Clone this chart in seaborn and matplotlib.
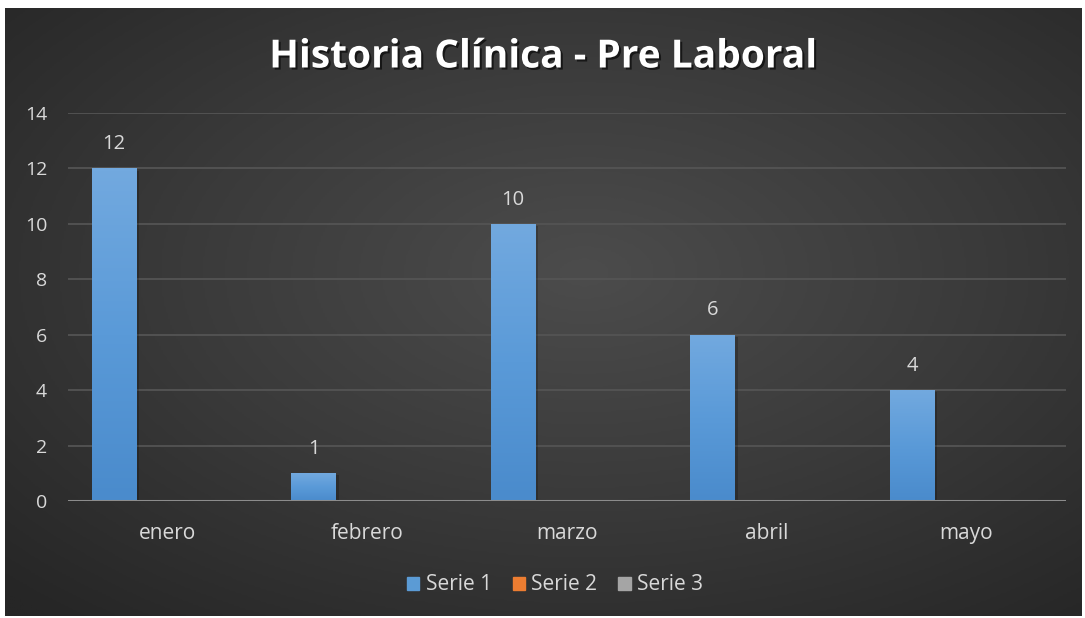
import numpy as np
import pandas as pd
import matplotlib
matplotlib.use('Agg')
import matplotlib.pyplot as plt
import matplotlib.patheffects as pe
from matplotlib.colors import LinearSegmentedColormap
import seaborn as sns

meses = ['enero', 'febrero', 'marzo', 'abril', 'mayo']
serie1 = [12, 1, 10, 6, 4]
serie2 = [0, 0, 0, 0, 0]
serie3 = [0, 0, 0, 0, 0]
series = ['Serie 1', 'Serie 2', 'Serie 3']
colores = ['#5b9bd5', '#ed7d31', '#a5a5a5']

df = pd.DataFrame({
    'mes': meses * 3,
    'serie': [s for s in series for _ in meses],
    'valor': serie1 + serie2 + serie3,
})

sns.set_style('dark')
plt.rcParams['font.family'] = ['Open Sans', 'DejaVu Sans']
txt = '#d9d9d9'

fig = plt.figure(figsize=(10.85, 6.18), dpi=100, facecolor='white')

# radial background like the Excel chart style
bg = fig.add_axes([5 / 1085, 2 / 618, 1077 / 1085, 608 / 618], zorder=-10)
yy, xx = np.mgrid[0:300, 0:540]
d = np.sqrt(((xx - 290) / 540) ** 2 + ((yy - 130) / 300) ** 2)
d = np.clip(d / 0.75, 0, 1)
bg_cmap = LinearSegmentedColormap.from_list('bg', ['#4c4c4c', '#3a3a3a', '#262626'])
bg.imshow(d, cmap=bg_cmap, aspect='auto', interpolation='bilinear')
bg.axis('off')

ax = fig.add_axes([68 / 1085, 1 - 501 / 618, 998 / 1085, 388 / 618])
ax.patch.set_alpha(0)
sns.barplot(data=df, x='mes', y='valor', hue='serie', palette=colores,
            width=0.81, gap=0.17, ax=ax, legend=False, zorder=3,
            linewidth=0, edgecolor='none')

ax.set_ylim(0, 14)
ax.set_yticks(range(0, 15, 2))
ax.set_xlim(-0.5, 4.5)
ax.grid(axis='y', color='#545454', linewidth=1.3, zorder=0)
ax.grid(axis='x', visible=False)
for s in ax.spines.values():
    s.set_visible(False)
ax.axhline(0, color='#8c8c8c', linewidth=2.2, zorder=4)
ax.set_xlabel('')
ax.set_ylabel('')
ax.tick_params(axis='y', colors=txt, labelsize=14, length=0, pad=15)
ax.tick_params(axis='x', colors=txt, labelsize=15, length=0, pad=16)

# gradient fill on the visible bars + value labels
grad_cmap = LinearSegmentedColormap.from_list('b', ['#4a8bcc', '#5a9ad8', '#72a9df'])
gy = np.linspace(0, 1, 100).reshape(-1, 1)
xl, yl = ax.get_xlim(), ax.get_ylim()
for p in ax.patches:
    h = p.get_height()
    if h <= 0 or p.get_facecolor()[2] < 0.7:
        continue
    p.set_path_effects([pe.SimplePatchShadow(offset=(2, -1.5), shadow_rgbFace='black', alpha=0.2),
                        pe.Normal()])
    x0, w = p.get_x(), p.get_width()
    im = ax.imshow(gy, cmap=grad_cmap, origin='lower', aspect='auto',
                   extent=[x0, x0 + w, 0, h], zorder=3.5)
    im.set_clip_path(p)
    ax.annotate(f'{h:.0f}', (x0 + w / 2, h), xytext=(0, 17.5), textcoords='offset points',
                ha='center', va='center', color=txt, fontsize=14.5)
ax.set_xlim(xl)
ax.set_ylim(yl)

fig.text(0.5, 1 - 57 / 618, 'Historia Clínica - Pre Laboral', ha='center', va='center',
         color='white', fontsize=28, fontweight='bold',
         path_effects=[pe.withSimplePatchShadow(offset=(1.5, -1.5), shadow_rgbFace='black', alpha=0.6)])

handles = [plt.Rectangle((0, 0), 1, 1, color=c) for c in colores]
fig.legend(handles, series, loc='center', bbox_to_anchor=(555 / 1085, 1 - 585 / 618),
           ncol=3, frameon=False, fontsize=15, labelcolor=txt,
           handlelength=0.6, handleheight=0.6, handletextpad=0.3, columnspacing=1.0)

fig.savefig('out.png', dpi=100, facecolor='white')
